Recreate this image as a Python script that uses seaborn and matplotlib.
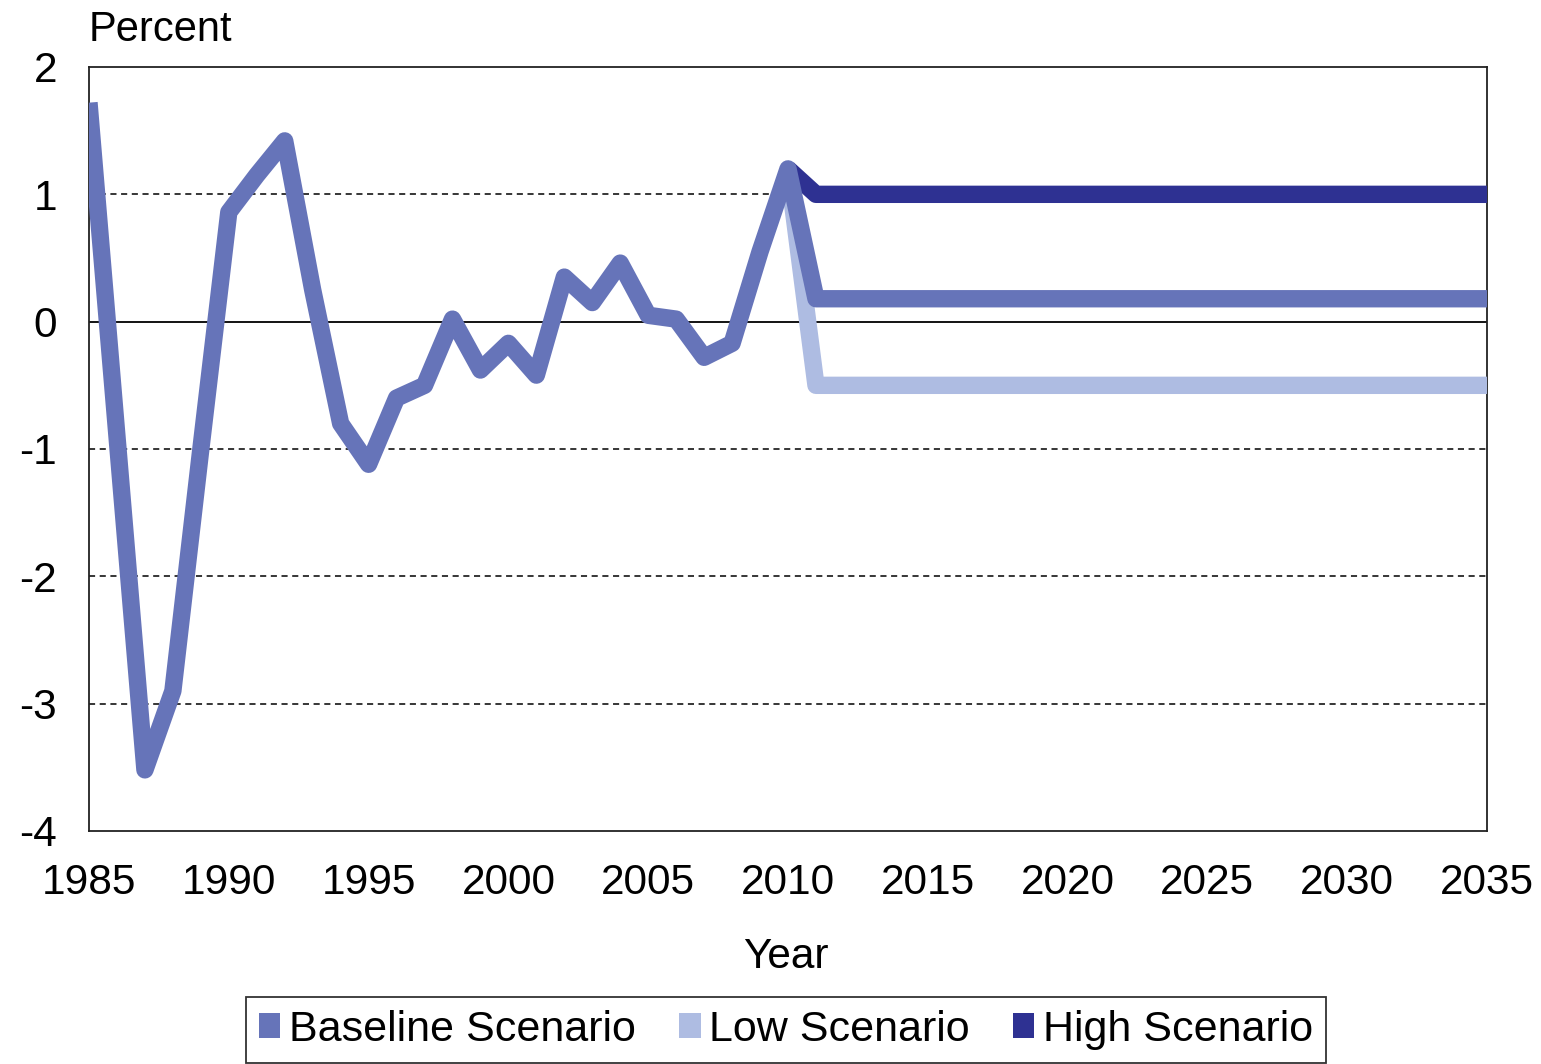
import pandas as pd
import matplotlib
matplotlib.use("Agg")
import matplotlib.pyplot as plt
from matplotlib.patches import Patch
import seaborn as sns

# Historical data (baseline) and scenario projections
hist_years = [1985, 1986, 1987, 1988, 1989, 1990, 1991, 1992, 1993, 1994,
              1995, 1996, 1997, 1998, 1999, 2000, 2001, 2002, 2003, 2004,
              2005, 2006, 2007, 2008, 2009, 2010]
hist_values = [1.72, -0.9, -3.52, -2.9, -1.0, 0.86, 1.15, 1.42, 0.25, -0.8,
               -1.12, -0.6, -0.5, 0.02, -0.38, -0.17, -0.42, 0.35, 0.15, 0.46,
               0.05, 0.02, -0.28, -0.17, 0.55, 1.2]

proj_years = [2010, 2011, 2015, 2020, 2025, 2030, 2035]
baseline_proj = [1.2, 0.18, 0.18, 0.18, 0.18, 0.18, 0.18]
low_proj = [1.2, -0.5, -0.5, -0.5, -0.5, -0.5, -0.5]
high_proj = [1.2, 1.0, 1.0, 1.0, 1.0, 1.0, 1.0]

labels = ["Baseline Scenario", "Low Scenario", "High Scenario"]
colors = {"Baseline Scenario": "#6674B9", "Low Scenario": "#AEBCE2", "High Scenario": "#2E3192"}

baseline = pd.DataFrame({"year": hist_years + proj_years[1:],
                         "value": hist_values + baseline_proj[1:],
                         "scenario": "Baseline Scenario"})
low = pd.DataFrame({"year": proj_years, "value": low_proj, "scenario": "Low Scenario"})
high = pd.DataFrame({"year": proj_years, "value": high_proj, "scenario": "High Scenario"})
df = pd.concat([low, high, baseline], ignore_index=True)

sns.set_style("white")
plt.rcParams["font.family"] = ["Liberation Sans", "DejaVu Sans"]
plt.rcParams["axes.unicode_minus"] = False
plt.rcParams["text.color"] = "black"

fig = plt.figure(figsize=(15.41, 10.64), dpi=100)
ax = fig.add_axes([89 / 1541, (1064 - 831) / 1064, (1487 - 89) / 1541, (831 - 67) / 1064])

# grid lines and zero line
for yv in [1, -1, -2, -3]:
    ax.axhline(yv, color="black", lw=1.1, ls=(0, (4, 3)), zorder=1)
ax.axhline(0, color="black", lw=1.3, zorder=1)

sns.lineplot(data=df, x="year", y="value", hue="scenario", hue_order=["Low Scenario", "High Scenario", "Baseline Scenario"],
             palette=colors, linewidth=12.5, legend=False, ax=ax, zorder=3, estimator=None, sort=False)
for line in ax.get_lines():
    line.set_solid_joinstyle("round")
    line.set_solid_capstyle("butt")

ax.set_xlim(1985, 2035)
ax.set_ylim(-4, 2)
ax.set_xticks(range(1985, 2036, 5))
ax.set_yticks([-4, -3, -2, -1, 0, 1, 2])
ax.tick_params(axis="both", length=0, labelsize=30.5, colors="black")
ax.tick_params(axis="x", pad=23)
ax.tick_params(axis="y", pad=23)
ax.set_xlabel("")
ax.set_ylabel("")
for s in ax.spines.values():
    s.set_color("#222222")
    s.set_linewidth(1.3)

fig.text(89 / 1541, 1 - 30 / 1064, "Percent", fontsize=30, ha="left", va="center", color="black")
fig.text(786 / 1541, 1 - 957 / 1064, "Year", fontsize=30.5, ha="center", va="center", color="black")

handles = [Patch(facecolor=colors[l], edgecolor="none") for l in labels]
leg = fig.legend(handles, labels, loc="center", bbox_to_anchor=(786 / 1541, 1 - 1030 / 1064), ncol=3,
                 fontsize=31, frameon=True, fancybox=False, edgecolor="black", handlelength=0.5,
                 handleheight=0.5, handletextpad=0.2, columnspacing=1.0, borderpad=0.3, borderaxespad=0)
leg.get_frame().set_linewidth(1.3)
for t in leg.get_texts():
    t.set_color("black")

fig.savefig("out.png", dpi=100)
